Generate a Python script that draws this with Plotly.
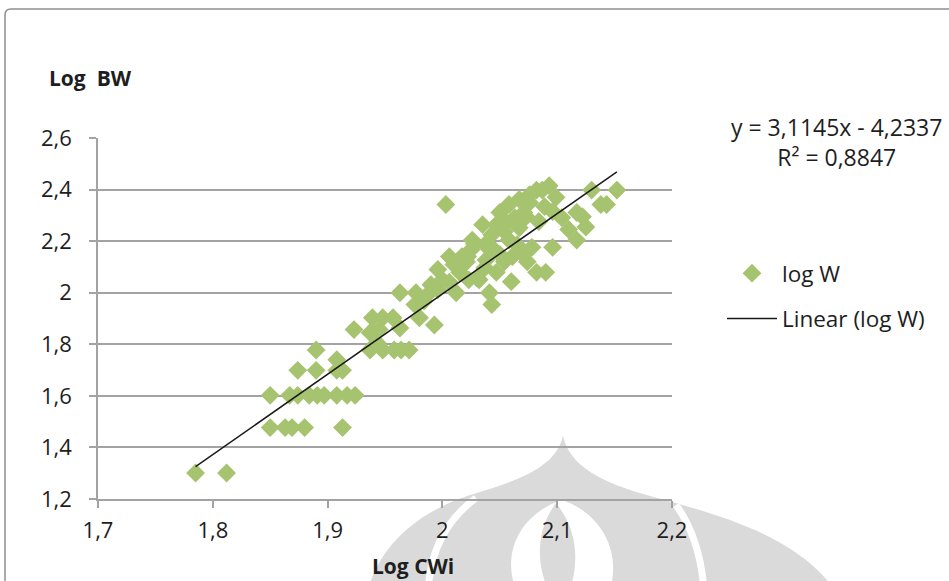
import plotly.graph_objects as go

# log10 of carapace width (x) and body weight (y) for each specimen
log_cwi = [
    1.785, 1.812,
    1.850, 1.863, 1.869, 1.880, 1.913,
    1.850, 1.867, 1.874, 1.884, 1.891, 1.897, 1.908, 1.917, 1.924,
    1.874, 1.890, 1.908, 1.913,
    1.908, 1.890, 1.923,
    1.937, 1.943, 1.948, 1.958, 1.964, 1.971,
    1.937, 1.945, 1.963,
    1.939, 1.948, 1.957,
    1.963, 1.977, 1.976, 1.984, 1.980, 1.993,
    1.996, 1.996, 2.006, 2.006, 2.015, 2.012, 2.022, 2.028, 2.030,
    2.038, 2.041, 2.043, 2.047, 2.003,
    2.087, 2.093, 2.082, 2.076, 2.099, 2.130, 2.152, 2.143, 2.138,
    2.058, 2.050, 2.035, 2.076, 2.073, 2.117, 2.122, 2.104, 2.110,
    2.125, 2.117, 2.078, 2.096, 2.026, 2.056, 2.058, 2.045, 2.061,
    2.082, 2.090, 2.060, 2.032, 2.017, 2.015,
    2.010, 2.021, 2.025, 2.037, 2.043, 2.047, 2.054, 2.063, 2.067,
    2.071, 2.065, 2.070, 2.074, 2.054, 2.050, 2.037, 2.023, 2.000,
    1.990, 1.987, 2.089, 2.096, 2.084, 2.067,
]
log_w = [
    1.301, 1.301,
    1.477, 1.477, 1.477, 1.477, 1.477,
    1.602, 1.602, 1.602, 1.602, 1.602, 1.602, 1.602, 1.602, 1.602,
    1.699, 1.699, 1.699, 1.699,
    1.740, 1.778, 1.857,
    1.778, 1.806, 1.778, 1.778, 1.778, 1.778,
    1.845, 1.857, 1.863,
    1.903, 1.903, 1.903,
    2.000, 2.000, 1.954, 1.968, 1.903, 1.875,
    2.090, 2.012, 2.041, 2.140, 2.079, 2.000, 2.140, 2.190, 2.058,
    2.127, 2.000, 1.954, 2.079, 2.342,
    2.398, 2.415, 2.398, 2.380, 2.370, 2.398, 2.398, 2.342, 2.342,
    2.342, 2.311, 2.264, 2.350, 2.295, 2.311, 2.295, 2.291, 2.245,
    2.255, 2.204, 2.176, 2.176, 2.204, 2.272, 2.204, 2.167, 2.140,
    2.079, 2.079, 2.043, 2.050, 2.140, 2.101,
    2.109, 2.120, 2.167, 2.186, 2.225, 2.264, 2.237, 2.291, 2.252,
    2.311, 2.186, 2.148, 2.120, 2.120, 2.148, 2.097, 2.050, 2.050,
    2.031, 1.992, 2.334, 2.315, 2.276, 2.362,
]

# least-squares trendline reported on the chart
slope = 3.1145
intercept = -4.2337
r_squared = 0.8847

x_ticks = [1.7, 1.8, 1.9, 2.0, 2.1, 2.2]
y_ticks = [1.2, 1.4, 1.6, 1.8, 2.0, 2.2, 2.4, 2.6]

FONT = "Open Sans"
TEXT = "#1e1e1e"
GREEN = "#a6c36f"
GRID = "#a3a3a3"
MARK = "#dadada"

W, H = 949, 581
ML, MR, MT, MB = 98, 277, 138, 82
PW, PH = W - ML - MR, H - MT - MB


def px(x):
    return (x - ML) / PW


def py(y):
    return (H - MB - y) / PH


def fmt(v, nd):
    return f"{v:.{nd}f}".replace(".", ",")


fig = go.Figure()

fig.add_trace(go.Scatter(
    x=log_cwi, y=log_w, mode="markers", name="log W",
    marker=dict(symbol="diamond", size=14.5, color=GREEN, line=dict(width=0)),
    legendgroup="a",
))

x_lo, x_hi = min(log_cwi), max(log_cwi)
fig.add_trace(go.Scatter(
    x=[x_lo, x_hi], y=[slope * x_lo + intercept, slope * x_hi + intercept],
    mode="lines", name="Linear (log W)",
    line=dict(color="#1a1a1a", width=1.5),
    legendgroup="b",
))

# faint emblem behind the chart
def path(points):
    d = []
    for cmd, coords in points:
        d.append(cmd + " ".join(f"{px(a):.4f},{py(b):.4f}" for a, b in coords))
    return " ".join(d) + " Z"


emblem = [
    # outer dome
    dict(d=path([("M", [(563, 436)]),
                 ("C", [(570, 466), (600, 482), (650, 496)]),
                 ("C", [(720, 515), (795, 535), (835, 590)]),
                 ("L", [(368, 590)]),
                 ("C", [(380, 545), (418, 512), (470, 495)]),
                 ("C", [(522, 480), (556, 466), (563, 436)])]), color=MARK),
    # central white lens
    dict(d=path([("M", [(562, 500)]),
                 ("C", [(525, 512), (500, 548), (516, 590)]),
                 ("L", [(610, 590)]),
                 ("C", [(622, 548), (598, 512), (562, 500)])]), color="white"),
    # inner flame
    dict(d=path([("M", [(556, 503)]),
                 ("C", [(536, 530), (536, 562), (548, 590)]),
                 ("L", [(570, 590)]),
                 ("C", [(580, 558), (576, 528), (556, 503)])]), color=MARK),
]
shapes = []
for e in emblem:
    shapes.append(dict(type="path", xref="paper", yref="paper", path=e["d"],
                       fillcolor=e["color"], line=dict(width=0), layer="below"))
# white bands separating the side lobes
for band in ([(476, 498), (446, 520), (430, 550), (428, 592)],
             [(676, 505), (694, 530), (702, 560), (704, 592)]):
    shapes.append(dict(type="path", xref="paper", yref="paper",
                       path=f"M{px(band[0][0]):.4f},{py(band[0][1]):.4f} C"
                            + " ".join(f"{px(a):.4f},{py(b):.4f}" for a, b in band[1:]),
                       line=dict(color="white", width=7), layer="below"))

# chart frame
r = 6
frame = (f"M{px(5):.4f},{py(700):.4f} L{px(5):.4f},{py(9 + r):.4f} "
         f"Q{px(5):.4f},{py(9):.4f} {px(5 + r):.4f},{py(9):.4f} L{px(1200):.4f},{py(9):.4f}")
shapes.append(dict(type="path", xref="paper", yref="paper", path=frame,
                   line=dict(color="#8e8e8e", width=1.5), layer="above"))

annotations = [
    dict(text=f"y = {fmt(slope, 4)}x - {fmt(-intercept, 4)}<br>R² = {fmt(r_squared, 4)}",
         x=px(836), y=py(142), xref="paper", yref="paper", showarrow=False,
         xanchor="center", yanchor="middle", align="center",
         font=dict(family=FONT, size=23, color=TEXT)),
    dict(text="<b>Log\u00a0\u00a0BW</b>", x=px(47), y=py(78), xref="paper", yref="paper",
         showarrow=False, xanchor="left", yanchor="middle",
         font=dict(family=FONT, size=21, color=TEXT)),
    dict(text="<b>Log CWi</b>", x=px(413), y=py(566), xref="paper", yref="paper",
         showarrow=False, xanchor="center", yanchor="middle",
         font=dict(family=FONT, size=21, color=TEXT)),
]

axis_common = dict(
    showline=True, linecolor=GRID, linewidth=1.5,
    ticks="outside", ticklen=7, tickwidth=1.5, tickcolor=GRID,
    tickfont=dict(family=FONT, size=22, color=TEXT),
    zeroline=False,
)

fig.update_layout(
    width=W, height=H,
    margin=dict(l=ML, r=MR, t=MT, b=MB),
    paper_bgcolor="white", plot_bgcolor="rgba(0,0,0,0)",
    separators=", ",
    xaxis=dict(range=[1.7, 2.2], tickvals=x_ticks, showgrid=False,
               ticklabelstandoff=4, **axis_common),
    yaxis=dict(range=[1.2, 2.6], tickvals=y_ticks, showgrid=True,
               gridcolor=GRID, gridwidth=1.5, ticklabelstandoff=13, **axis_common),
    showlegend=True,
    legend=dict(x=px(722), y=py(252), xanchor="left", yanchor="top",
                bgcolor="rgba(0,0,0,0)", tracegroupgap=13, itemwidth=50,
                font=dict(family=FONT, size=22.5, color=TEXT)),
    shapes=shapes,
    annotations=annotations,
)

fig.write_html("out.html")
